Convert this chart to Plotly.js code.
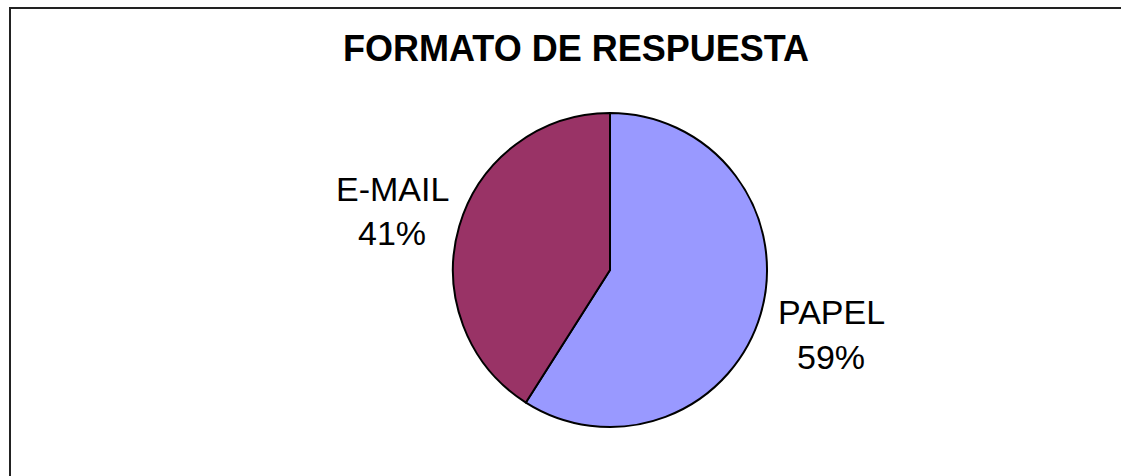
<!DOCTYPE html>
<html>
<head>
<meta charset="utf-8">
<script src="https://cdn.plot.ly/plotly-3.0.1.min.js"></script>
<style>html,body{margin:0;padding:0;background:#fff;}#chart{width:1121px;height:476px;}</style>
</head>
<body>
<div id="chart"></div>
<script>
const categories = ["PAPEL", "E-MAIL"];
const values = [59, 41];
const sliceColors = ["#9999FF", "#993366"];
const chartTitle = "FORMATO DE RESPUESTA";

const W = 1121, H = 476;
const cx = 610, cy = 270, r = 157;

const total = values.reduce((a, b) => a + b, 0);
const pct = values.map(v => Math.round(v / total * 100) + "%");

// label positions (pixel centres of each text line)
const labelPos = {
  "PAPEL": {x: 831, y1: 312, y2: 357},
  "E-MAIL": {x: 392, y1: 189, y2: 233}
};

const annotations = [];
categories.forEach((c, i) => {
  const p = labelPos[c];
  annotations.push({text: c, x: p.x / W, y: 1 - p.y1 / H, xref: "paper", yref: "paper",
    showarrow: false, xanchor: "center", yanchor: "middle",
    font: {family: "Liberation Sans, Arial, sans-serif", size: 34, color: "#000"}});
  annotations.push({text: pct[i], x: p.x / W, y: 1 - p.y2 / H, xref: "paper", yref: "paper",
    showarrow: false, xanchor: "center", yanchor: "middle",
    font: {family: "Liberation Sans, Arial, sans-serif", size: 34, color: "#000"}});
});

const data = [{
  type: "pie",
  labels: categories,
  values: values,
  sort: false,
  direction: "clockwise",
  rotation: 0,
  textinfo: "none",
  hoverinfo: "label+percent",
  marker: {colors: sliceColors, line: {color: "#000", width: 2}},
  domain: {x: [(cx - r) / W, (cx + r) / W], y: [1 - (cy + r) / H, 1 - (cy - r) / H]},
  showlegend: false
}];

const layout = {
  width: W, height: H,
  margin: {l: 0, r: 0, t: 0, b: 0},
  paper_bgcolor: "#fff",
  showlegend: false,
  title: {text: "<b>" + chartTitle + "</b>", x: 576 / W, xanchor: "center", y: 1 - 48 / H, yanchor: "middle",
    font: {family: "Liberation Sans, Arial, sans-serif", size: 36, color: "#000"}},
  annotations: annotations,
  shapes: [{type: "rect", xref: "paper", yref: "paper",
    x0: 10 / W, x1: 1.02, y0: -0.02, y1: 1 - 8 / H,
    line: {color: "#222", width: 2}, fillcolor: "rgba(0,0,0,0)"}]
};

Plotly.newPlot("chart", data, layout, {displayModeBar: false, staticPlot: true});
</script>
</body>
</html>
